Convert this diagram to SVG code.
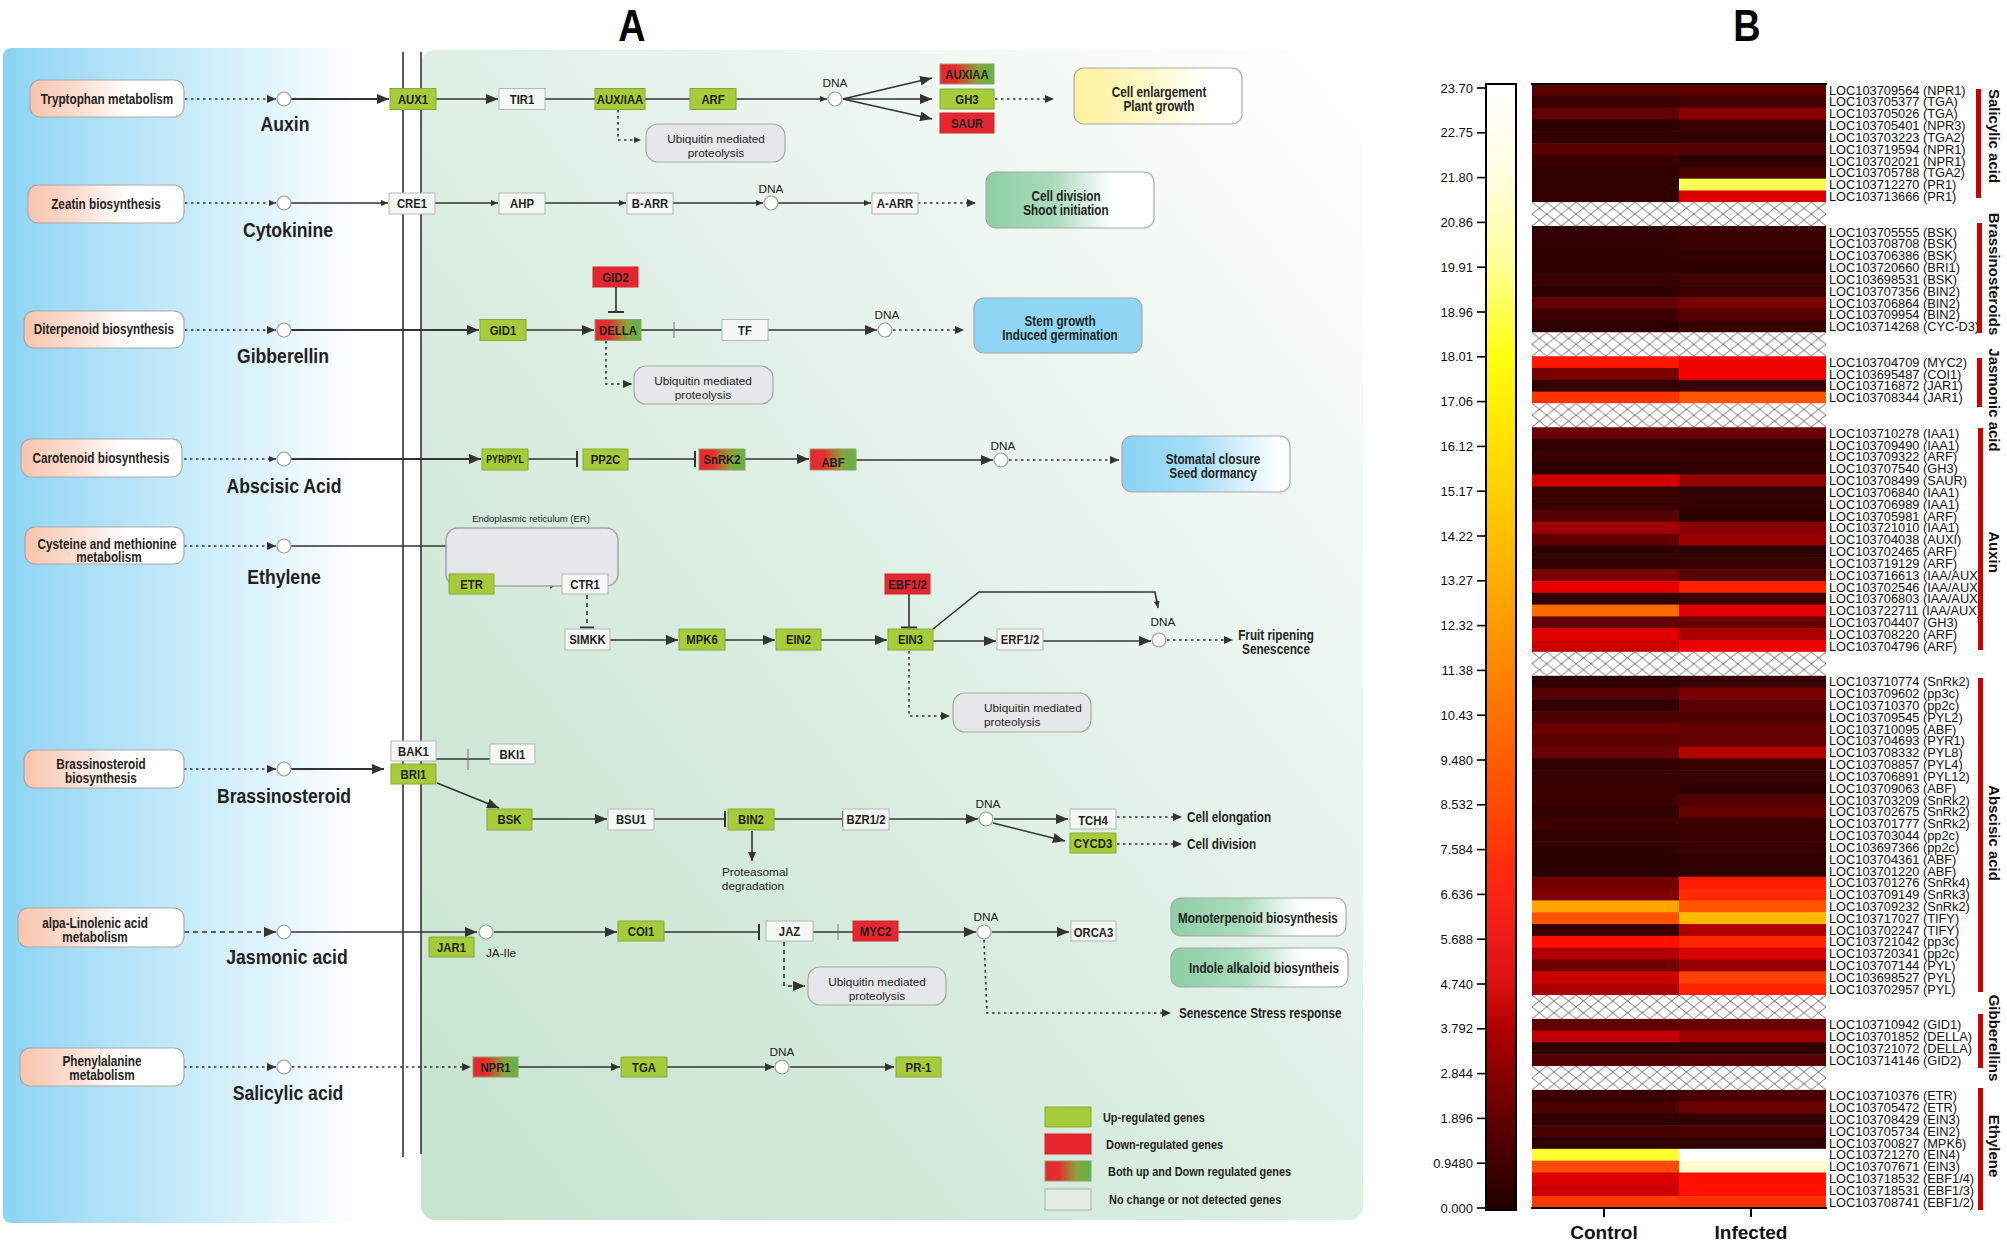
<svg xmlns="http://www.w3.org/2000/svg" width="2007" height="1242" viewBox="0 0 2007 1242">
<defs>
<linearGradient id="blueBg" x1="0" y1="0" x2="1" y2="0"><stop offset="0" stop-color="#8ad3f4"/><stop offset="0.15" stop-color="#a3dcf6"/><stop offset="0.5" stop-color="#cfeefa"/><stop offset="0.78" stop-color="#f4fbfe"/><stop offset="0.86" stop-color="#ffffff"/></linearGradient>
<linearGradient id="greenBg" x1="0" y1="1" x2="1" y2="0"><stop offset="0" stop-color="#c6e3cf"/><stop offset="0.4" stop-color="#d8ecdf"/><stop offset="0.75" stop-color="#eff7f2"/><stop offset="1" stop-color="#ffffff"/></linearGradient>
<linearGradient id="srcG" x1="0" y1="0" x2="1" y2="0"><stop offset="0" stop-color="#f7c4ad"/><stop offset="0.3" stop-color="#fbdccf"/><stop offset="0.65" stop-color="#ffffff"/></linearGradient>
<linearGradient id="yelG" x1="0" y1="0" x2="1" y2="0"><stop offset="0" stop-color="#fdf29a"/><stop offset="0.45" stop-color="#fef8c8"/><stop offset="0.8" stop-color="#ffffff"/></linearGradient>
<linearGradient id="grnG" x1="0" y1="0" x2="1" y2="0"><stop offset="0" stop-color="#8ccfa5"/><stop offset="0.4" stop-color="#a9dbbb"/><stop offset="0.75" stop-color="#ffffff"/></linearGradient>
<linearGradient id="bluG" x1="0" y1="0" x2="1" y2="0"><stop offset="0" stop-color="#89d2f3"/><stop offset="0.45" stop-color="#a8def6"/><stop offset="0.95" stop-color="#ffffff"/></linearGradient>
<linearGradient id="rg" x1="0" y1="0" x2="1" y2="0"><stop offset="0" stop-color="#e8262f"/><stop offset="0.3" stop-color="#e2302d"/><stop offset="0.68" stop-color="#8aa23a"/><stop offset="1" stop-color="#5cb648"/></linearGradient>
<linearGradient id="cbar" x1="0" y1="0" x2="0" y2="1">
<stop offset="0" stop-color="#ffffff"/><stop offset="0.08" stop-color="#fffde0"/><stop offset="0.16" stop-color="#ffff99"/><stop offset="0.24" stop-color="#ffff10"/><stop offset="0.32" stop-color="#ffe000"/><stop offset="0.40" stop-color="#ffc000"/><stop offset="0.48" stop-color="#ff9a00"/><stop offset="0.56" stop-color="#ff7000"/><stop offset="0.64" stop-color="#ff4a00"/><stop offset="0.70" stop-color="#ff2a10"/><stop offset="0.76" stop-color="#ee1a1a"/><stop offset="0.80" stop-color="#d81010"/><stop offset="0.84" stop-color="#b00000"/><stop offset="0.88" stop-color="#880000"/><stop offset="0.92" stop-color="#600000"/><stop offset="0.96" stop-color="#400000"/><stop offset="1" stop-color="#220000"/>
</linearGradient>
<pattern id="hatch" patternUnits="userSpaceOnUse" x="1532" y="84" width="14.7" height="11.8316"><rect width="14.7" height="11.8316" fill="#ffffff"/><path d="M0,0 L14.7,11.8316 M14.7,0 L0,11.8316" stroke="#333" stroke-width="0.7"/></pattern>
<marker id="ahl" markerUnits="userSpaceOnUse" markerWidth="12" markerHeight="10" refX="12" refY="5" orient="auto"><path d="M0,0 L12,5 L0,10 z" fill="#333"/></marker>
<marker id="ahm" markerUnits="userSpaceOnUse" markerWidth="9" markerHeight="8" refX="9" refY="4" orient="auto"><path d="M0,0 L9,4 L0,8 z" fill="#333"/></marker>
<marker id="ahs" markerUnits="userSpaceOnUse" markerWidth="7" markerHeight="6" refX="7" refY="3" orient="auto"><path d="M0,0 L7,3 L0,6 z" fill="#333"/></marker>
<style>
.bx-g{fill:#a6cc3a;stroke:#86a936;stroke-width:1}
.bx-r{fill:#e8262f;stroke:#c9262c;stroke-width:1}
.bx-w{fill:#f4f7f5;stroke:#b3b8b5;stroke-width:1}
.bx-rg{fill:url(#rg);stroke:#9a9a6a;stroke-width:1}
.gt,.st,.hl,.ot,.ttl,.lg{font-family:"Liberation Sans",Arial,sans-serif;font-weight:bold;fill:#231f20;transform-box:fill-box;transform-origin:center;transform:scaleX(0.84)}
.gt{font-size:13.5px;text-anchor:middle}
.st{font-size:14px;text-anchor:middle}
.hl{font-size:21px;text-anchor:middle}
.ot{font-size:14px;text-anchor:middle}
.ttl{font-size:45px;fill:#000;text-anchor:middle}
.lg{font-size:13px;transform-origin:left center}
.ls{text-anchor:start;transform-origin:left center}
.src{fill:url(#srcG);stroke:#a9a9a9;stroke-width:1.2}
.circ{fill:#ffffff;stroke:#9a9a9a;stroke-width:1.2}
.rt{font-family:"Liberation Sans",Arial,sans-serif;font-size:11.8px;fill:#231f20;text-anchor:middle}
.ubi{fill:#e6e7e9;stroke:#a8a8a8;stroke-width:1.2}
.out{stroke:#a8a8a8;stroke-width:1.2}
.ln{stroke:#333;stroke-width:1.6;fill:none}
.lk{stroke-width:2.2}
.dot{stroke-dasharray:2.5 3.5}
.dsh{stroke-dasharray:5 4}
.tb{stroke:#333;stroke-width:2;fill:none}
.tk{stroke:#777;stroke-width:1;fill:none}
.hm{font-family:"Liberation Sans",Arial,sans-serif;font-size:12.8px;fill:#111}
.tick{font-family:"Liberation Sans",Arial,sans-serif;font-size:13px;fill:#111;text-anchor:end}
.cat{font-family:"Liberation Sans",Arial,sans-serif;font-size:15px;font-weight:bold;fill:#111;text-anchor:middle}
.ax{font-family:"Liberation Sans",Arial,sans-serif;font-size:19px;font-weight:bold;fill:#111;text-anchor:middle}
</style>
</defs>
<rect x="0" y="0" width="2007" height="1242" fill="#ffffff"/>
<text class="ttl" x="632" y="41">A</text>
<text class="ttl" x="1747" y="41">B</text>

<g id="panelA-background">
<rect x="3" y="48" width="417" height="1175" rx="8" fill="url(#blueBg)"/>
<rect x="421" y="50" width="942" height="1170" rx="14" fill="url(#greenBg)"/>
<line x1="403" y1="52" x2="403" y2="1157" stroke="#333" stroke-width="1.6"/>
<line x1="421" y1="52" x2="421" y2="1154" stroke="#333" stroke-width="1.6"/>
</g>

<g id="connectors">
<!-- row 1 auxin -->
<path class="ln dot" d="M185,99 H276" marker-end="url(#ahm)"/>
<path class="ln lk" d="M291,99 H389" marker-end="url(#ahl)"/>
<path class="ln" d="M436,99 H498" marker-end="url(#ahl)"/>
<path class="ln" d="M545,99 H595"/>
<path class="ln" d="M645,99 H690"/>
<path class="ln" d="M736,99 H827" marker-end="url(#ahs)"/>
<path class="ln" d="M843,99 L932,78" marker-end="url(#ahl)"/>
<path class="ln" d="M843,99 H932" marker-end="url(#ahl)"/>
<path class="ln" d="M843,99 L932,119" marker-end="url(#ahl)"/>
<path class="ln dot" d="M995,99 H1054" marker-end="url(#ahm)"/>
<path class="ln dot" d="M618,110 V140 H641" marker-end="url(#ahs)"/>
<!-- row 2 cytokinine -->
<path class="ln dot" d="M185,203 H276" marker-end="url(#ahs)"/>
<path class="ln" d="M291,203 H388" marker-end="url(#ahs)"/>
<path class="ln" d="M435,203 H498" marker-end="url(#ahs)"/>
<path class="ln" d="M545,203 H626" marker-end="url(#ahs)"/>
<path class="ln" d="M673,203 H763" marker-end="url(#ahs)"/>
<path class="ln" d="M778,203 H871" marker-end="url(#ahs)"/>
<path class="ln dot" d="M918,203 H976" marker-end="url(#ahm)"/>
<!-- row 3 gibberellin -->
<path class="ln dot" d="M185,330 H276" marker-end="url(#ahm)"/>
<path class="ln lk" d="M291,330 H479" marker-end="url(#ahl)"/>
<path class="ln" d="M526,330 H594" marker-end="url(#ahl)"/>
<path class="ln" d="M616,287 V312"/>
<path class="tb" d="M608,312 H624"/>
<path class="ln" d="M641,330 H722"/>
<path class="tk" d="M674,322 V338"/>
<path class="ln" d="M768,330 H877" marker-end="url(#ahl)"/>
<path class="ln dot" d="M893,330 H964" marker-end="url(#ahm)"/>
<path class="ln dot" d="M606,341 V384 H632" marker-end="url(#ahm)"/>
<!-- row 4 abscisic acid -->
<path class="ln dot" d="M184,459 H276" marker-end="url(#ahs)"/>
<path class="ln lk" d="M291,459 H481" marker-end="url(#ahl)"/>
<path class="ln" d="M528,459 H577"/>
<path class="tb" d="M577,451 V467"/>
<path class="ln" d="M628,459 H695"/>
<path class="tb" d="M695,451 V467"/>
<path class="ln" d="M745,459 H809" marker-end="url(#ahl)"/>
<path class="ln" d="M856,460 H993" marker-end="url(#ahl)"/>
<path class="ln dot" d="M1009,460 H1119" marker-end="url(#ahm)"/>
<!-- row 5 ethylene -->
<path class="ln dot" d="M184,546 H276" marker-end="url(#ahm)"/>
<path class="ln" d="M291,546 H455 Q471,546 471,562 V572"/>
<path class="tb" d="M464,572 H478"/>
<path d="M495,583 H552" stroke="#333" stroke-width="4.5" fill="none"/>
<path d="M495,583 H552" stroke="#e6e7e9" stroke-width="1.2" fill="none"/>
<path d="M550,577.5 L561,583 L550,588.5 z" fill="#333"/>
<path class="ln" stroke-dasharray="4 4" d="M587,595 V627"/>
<path class="tb" d="M580,627.5 H594"/>
<path class="ln" d="M610,640 H678" marker-end="url(#ahl)"/>
<path class="ln" d="M725,640 H775" marker-end="url(#ahl)"/>
<path class="ln" d="M821,640 H887" marker-end="url(#ahl)"/>
<path class="ln" d="M909,594 V627"/>
<path class="tb" d="M901,627.5 H917"/>
<path class="ln" d="M933,641 H996" marker-end="url(#ahl)"/>
<path class="ln" d="M1043,641 H1151" marker-end="url(#ahl)"/>
<path class="ln" d="M933,629 L979,592 H1155 L1158,608" marker-end="url(#ahs)"/>
<path class="ln dot" d="M1167,640 H1233" marker-end="url(#ahm)"/>
<path class="ln dot" d="M909,651 V716 H950" marker-end="url(#ahm)"/>
<!-- row 6 brassinosteroid -->
<path class="ln dot" d="M184,769 H276" marker-end="url(#ahm)"/>
<path class="ln lk" d="M291,769 H384" marker-end="url(#ahl)"/>
<path class="ln" d="M436,759 H490"/>
<path class="tk" d="M468,749 V770"/>
<path class="ln" d="M437,783 L499,808" marker-end="url(#ahl)"/>
<path class="ln" d="M532,819 H607" marker-end="url(#ahl)"/>
<path class="ln" d="M654,819 H725"/>
<path class="tb" d="M725,811 V827"/>
<path class="ln" d="M774,819 H843"/>
<path class="tb" d="M843,811 V827"/>
<path class="ln" d="M889,819 H978" marker-end="url(#ahl)"/>
<path class="ln" d="M994,819 H1068" marker-end="url(#ahl)"/>
<path class="ln" d="M993,823 L1065,841" marker-end="url(#ahl)"/>
<path class="ln dot" d="M1117,817 H1182" marker-end="url(#ahm)"/>
<path class="ln dot" d="M1117,844 H1182" marker-end="url(#ahm)"/>
<path class="ln" d="M752,831 V861" marker-end="url(#ahm)"/>
<!-- row 7 jasmonic acid -->
<path class="ln dsh" d="M184,932 H276" marker-end="url(#ahl)"/>
<path class="ln" stroke-width="2.6" d="M291,932 H477" marker-end="url(#ahl)"/>
<path class="ln" d="M494,932 H617" marker-end="url(#ahl)"/>
<path class="ln" d="M664,932 H759"/>
<path class="tb" d="M759,924 V940"/>
<path class="ln" d="M813,932 H853"/>
<path class="tk" d="M838,924 V940"/>
<path class="ln" d="M898,932 H976" marker-end="url(#ahl)"/>
<path class="ln" d="M992,932 H1069" marker-end="url(#ahl)"/>
<path class="ln dot" d="M984,940 L987,1013 H1171" marker-end="url(#ahm)"/>
<path class="ln" stroke-dasharray="4 4" d="M784,942 V986 H805" marker-end="url(#ahl)"/>
<!-- row 8 salicylic acid -->
<path class="ln dot" d="M184,1067 H276" marker-end="url(#ahm)"/>
<path class="ln dot" d="M292,1067 H471" marker-end="url(#ahm)"/>
<path class="ln" d="M518,1067 H620" marker-end="url(#ahm)"/>
<path class="ln" d="M667,1067 H774" marker-end="url(#ahm)"/>
<path class="ln" d="M790,1067 H894" marker-end="url(#ahm)"/>
</g>

<!-- ===== Row 1: Auxin ===== -->
<g id="n-tryptophan"><rect class="src" x="30" y="80" width="154" height="37" rx="10"/><text class="st" x="107" y="104">Tryptophan metabolism</text></g>
<g id="n-auxin"><circle class="circ" cx="284" cy="99" r="7"/><text class="hl" x="285" y="131">Auxin</text></g>
<g id="n-aux1"><rect class="bx-g" x="390" y="88.5" width="46" height="21"/><text class="gt" x="413" y="104">AUX1</text></g>
<g id="n-tir1"><rect class="bx-w" x="499" y="88.5" width="46" height="21"/><text class="gt" x="522" y="104">TIR1</text></g>
<g id="n-auxiaa"><rect class="bx-g" x="595" y="88.5" width="50" height="21"/><text class="gt" x="620" y="104">AUX/IAA</text></g>
<g id="n-arf"><rect class="bx-g" x="690" y="88.5" width="46" height="21"/><text class="gt" x="713" y="104">ARF</text></g>
<g id="n-dna1"><circle class="circ" cx="835" cy="99" r="7"/><text class="rt" x="835" y="87">DNA</text></g>
<g id="n-auxiaa2"><rect class="bx-rg" x="940" y="64" width="54" height="20"/><text class="gt" x="967" y="79">AUXIAA</text></g>
<g id="n-gh3"><rect class="bx-g" x="940" y="89" width="54" height="20"/><text class="gt" x="967" y="104">GH3</text></g>
<g id="n-saur"><rect class="bx-r" x="940" y="113" width="54" height="20"/><text class="gt" x="967" y="128">SAUR</text></g>
<g id="n-cellenl"><rect class="out" fill="url(#yelG)" x="1074" y="68" width="168" height="56" rx="10"/><text class="ot" x="1159" y="97">Cell enlargement</text><text class="ot" x="1159" y="111">Plant growth</text></g>
<g id="n-ubi1"><rect class="ubi" x="646" y="124" width="139" height="38" rx="12"/><text class="rt" x="716" y="143">Ubiquitin mediated</text><text class="rt" x="716" y="157">proteolysis</text></g>

<!-- ===== Row 2: Cytokinine ===== -->
<g id="n-zeatin"><rect class="src" x="28" y="185" width="156" height="38" rx="10"/><text class="st" x="106" y="209">Zeatin biosynthesis</text></g>
<g id="n-cytokinine"><circle class="circ" cx="284" cy="203" r="7"/><text class="hl" x="288" y="237">Cytokinine</text></g>
<g id="n-cre1"><rect class="bx-w" x="389" y="193" width="46" height="21"/><text class="gt" x="412" y="208.5">CRE1</text></g>
<g id="n-ahp"><rect class="bx-w" x="499" y="193" width="46" height="21"/><text class="gt" x="522" y="208.5">AHP</text></g>
<g id="n-barr"><rect class="bx-w" x="627" y="193" width="46" height="21"/><text class="gt" x="650" y="208.5">B-ARR</text></g>
<g id="n-dna2"><circle class="circ" cx="771" cy="203" r="7"/><text class="rt" x="771" y="193">DNA</text></g>
<g id="n-aarr"><rect class="bx-w" x="872" y="193" width="46" height="21"/><text class="gt" x="895" y="208.5">A-ARR</text></g>
<g id="n-celldiv"><rect class="out" fill="url(#grnG)" x="986" y="172" width="168" height="56" rx="10"/><text class="ot" x="1066" y="201">Cell division</text><text class="ot" x="1066" y="215">Shoot initiation</text></g>

<!-- ===== Row 3: Gibberellin ===== -->
<g id="n-diterpenoid"><rect class="src" x="24" y="311" width="160" height="37" rx="10"/><text class="st" x="104" y="334">Diterpenoid biosynthesis</text></g>
<g id="n-gibberellin"><circle class="circ" cx="284" cy="330" r="7"/><text class="hl" x="283" y="363">Gibberellin</text></g>
<g id="n-gid1"><rect class="bx-g" x="480" y="319.5" width="46" height="21"/><text class="gt" x="503" y="335">GID1</text></g>
<g id="n-della"><rect class="bx-rg" x="595" y="319.5" width="46" height="21"/><text class="gt" x="618" y="335">DELLA</text></g>
<g id="n-gid2"><rect class="bx-r" x="593" y="267" width="45" height="20"/><text class="gt" x="615.5" y="282">GID2</text></g>
<g id="n-tf"><rect class="bx-w" x="722" y="319.5" width="46" height="21"/><text class="gt" x="745" y="335">TF</text></g>
<g id="n-dna3"><circle class="circ" cx="885" cy="330" r="7"/><text class="rt" x="887" y="319">DNA</text></g>
<g id="n-stem"><rect class="out" fill="#8fd5f4" x="974" y="298" width="168" height="55" rx="10"/><text class="ot" x="1060" y="326">Stem growth</text><text class="ot" x="1060" y="340">Induced germination</text></g>
<g id="n-ubi3"><rect class="ubi" x="634" y="366" width="139" height="38" rx="12"/><text class="rt" x="703" y="385">Ubiquitin mediated</text><text class="rt" x="703" y="399">proteolysis</text></g>

<!-- ===== Row 4: Abscisic acid ===== -->
<g id="n-carotenoid"><rect class="src" x="21" y="439" width="161" height="38" rx="10"/><text class="st" x="101" y="463">Carotenoid biosynthesis</text></g>
<g id="n-aba"><circle class="circ" cx="284" cy="459" r="7"/><text class="hl" x="284" y="493">Abscisic Acid</text></g>
<g id="n-pyr"><rect class="bx-g" x="482" y="449" width="46" height="21"/><text class="gt" style="font-size:10.5px" x="505" y="463.5">PYR/PYL</text></g>
<g id="n-pp2c"><rect class="bx-g" x="583" y="449" width="45" height="21"/><text class="gt" x="605.5" y="464.5">PP2C</text></g>
<g id="n-snrk2"><rect class="bx-rg" x="699" y="449" width="46" height="21"/><text class="gt" x="722" y="464.5">SnRK2</text></g>
<g id="n-abf"><rect class="bx-rg" x="810" y="449" width="46" height="21"/><text class="gt" x="833" y="467">ABF</text></g>
<g id="n-dna4"><circle class="circ" cx="1001" cy="460" r="7"/><text class="rt" x="1003" y="450">DNA</text></g>
<g id="n-stomatal"><rect class="out" fill="url(#bluG)" x="1122" y="436" width="168" height="56" rx="10"/><text class="ot" x="1213" y="464">Stomatal closure</text><text class="ot" x="1213" y="478">Seed dormancy</text></g>

<!-- ===== Row 5: Ethylene ===== -->
<g id="n-cysteine"><rect class="src" x="25" y="527" width="159" height="37" rx="10"/><text class="st" x="107" y="549">Cysteine and methionine</text><text class="st" x="109" y="562">metabolism</text></g>
<g id="n-ethylene"><circle class="circ" cx="284" cy="546" r="7"/><text class="hl" x="284" y="584">Ethylene</text></g>
<g id="n-er"><rect fill="#e6e7e9" stroke="#a5a5a5" stroke-width="1.6" x="446" y="528" width="172" height="58" rx="12"/><text class="rt" style="font-size:9.5px" x="531" y="522">Endoplasmic reticulum (ER)</text></g>
<g id="n-etr"><rect class="bx-g" x="449" y="574" width="45" height="20"/><text class="gt" x="471.5" y="589">ETR</text></g>
<g id="n-ctr1"><rect class="bx-w" x="562" y="574" width="46" height="20"/><text class="gt" x="585" y="589">CTR1</text></g>
<g id="n-simkk"><rect class="bx-w" x="565" y="629" width="45" height="21"/><text class="gt" x="587.5" y="644.5">SIMKK</text></g>
<g id="n-mpk6"><rect class="bx-g" x="679" y="629" width="46" height="21"/><text class="gt" x="702" y="644.5">MPK6</text></g>
<g id="n-ein2"><rect class="bx-g" x="776" y="629" width="45" height="21"/><text class="gt" x="798.5" y="644.5">EIN2</text></g>
<g id="n-ein3"><rect class="bx-g" x="888" y="629" width="45" height="21"/><text class="gt" x="910.5" y="644.5">EIN3</text></g>
<g id="n-ebf"><rect class="bx-r" x="885" y="574" width="45" height="20"/><text class="gt" x="907.5" y="589">EBF1/2</text></g>
<g id="n-erf"><rect class="bx-w" x="997" y="629" width="46" height="21"/><text class="gt" x="1020" y="644.5">ERF1/2</text></g>
<g id="n-dna5"><circle class="circ" cx="1159" cy="640" r="7"/><text class="rt" x="1163" y="626">DNA</text></g>
<g id="n-fruit"><text class="ot" x="1276" y="640">Fruit ripening</text><text class="ot" x="1276" y="654">Senescence</text></g>
<g id="n-ubi5"><rect class="ubi" x="953" y="693" width="138" height="39" rx="12"/><text class="rt" style="text-anchor:start" x="984" y="712">Ubiquitin mediated</text><text class="rt" style="text-anchor:start" x="984" y="726">proteolysis</text></g>

<!-- ===== Row 6: Brassinosteroid ===== -->
<g id="n-brsrc"><rect class="src" x="24" y="750" width="160" height="38" rx="10"/><text class="st" x="101" y="769">Brassinosteroid</text><text class="st" x="101" y="783">biosynthesis</text></g>
<g id="n-brassinosteroid"><circle class="circ" cx="284" cy="769" r="7"/><text class="hl" x="284" y="803">Brassinosteroid</text></g>
<g id="n-bak1"><rect class="bx-w" x="391" y="741" width="45" height="20"/><text class="gt" x="413.5" y="756">BAK1</text></g>
<g id="n-bri1"><rect class="bx-g" x="391" y="764" width="45" height="20"/><text class="gt" x="413.5" y="779">BRI1</text></g>
<g id="n-bki1"><rect class="bx-w" x="490" y="744" width="45" height="20"/><text class="gt" x="512.5" y="759">BKI1</text></g>
<g id="n-bsk"><rect class="bx-g" x="487" y="809" width="45" height="21"/><text class="gt" x="509.5" y="824.5">BSK</text></g>
<g id="n-bsu1"><rect class="bx-w" x="608" y="809" width="46" height="21"/><text class="gt" x="631" y="824.5">BSU1</text></g>
<g id="n-bin2"><rect class="bx-g" x="728" y="809" width="46" height="21"/><text class="gt" x="751" y="824.5">BIN2</text></g>
<g id="n-bzr"><rect class="bx-w" x="843" y="809" width="46" height="21"/><text class="gt" x="866" y="824.5">BZR1/2</text></g>
<g id="n-dna6"><circle class="circ" cx="986" cy="819" r="7"/><text class="rt" x="988" y="808">DNA</text></g>
<g id="n-tch4"><rect class="bx-w" x="1070" y="809" width="46" height="20"/><text class="gt" x="1093" y="825.5">TCH4</text></g>
<g id="n-cycd3"><rect class="bx-g" x="1070" y="833" width="46" height="20"/><text class="gt" x="1093" y="848.5">CYCD3</text></g>
<g id="n-elong"><text class="ot ls" x="1187" y="822">Cell elongation</text></g>
<g id="n-celldiv2"><text class="ot ls" x="1187" y="849">Cell division</text></g>
<g id="n-proteasomal"><text class="rt" x="755" y="876">Proteasomal</text><text class="rt" x="753" y="890">degradation</text></g>

<!-- ===== Row 7: Jasmonic acid ===== -->
<g id="n-linolenic"><rect class="src" x="18" y="908" width="166" height="39" rx="10"/><text class="st" x="95" y="928">alpa-Linolenic acid</text><text class="st" x="95" y="942">metabolism</text></g>
<g id="n-jasmonic"><circle class="circ" cx="284" cy="932" r="7"/><text class="hl" x="287" y="964">Jasmonic acid</text></g>
<g id="n-jaile"><circle class="circ" cx="486" cy="932" r="7"/><text class="rt" x="501" y="957">JA-Ile</text></g>
<g id="n-jar1"><rect class="bx-g" x="429" y="937" width="45" height="20"/><text class="gt" x="451.5" y="952">JAR1</text></g>
<g id="n-coi1"><rect class="bx-g" x="618" y="921" width="46" height="20"/><text class="gt" x="641" y="936">COI1</text></g>
<g id="n-jaz"><rect class="bx-w" x="766" y="921" width="47" height="20"/><text class="gt" x="789.5" y="936">JAZ</text></g>
<g id="n-myc2"><rect class="bx-r" x="853" y="921" width="45" height="20"/><text class="gt" x="875.5" y="936">MYC2</text></g>
<g id="n-dna7"><circle class="circ" cx="984" cy="932" r="7"/><text class="rt" x="986" y="921">DNA</text></g>
<g id="n-orca3"><rect class="bx-w" x="1071" y="921" width="45" height="20"/><text class="gt" x="1093.5" y="937.5">ORCA3</text></g>
<g id="n-mono"><rect class="out" fill="url(#grnG)" x="1171" y="898" width="175" height="38" rx="10"/><text class="ot" x="1258" y="923">Monoterpenoid biosynthesis</text></g>
<g id="n-indole"><rect class="out" fill="url(#grnG)" x="1171" y="948" width="177" height="39" rx="10"/><text class="ot" x="1264" y="973">Indole alkaloid biosyntheis</text></g>
<g id="n-ubi7"><rect class="ubi" x="808" y="967" width="138" height="38" rx="12"/><text class="rt" x="877" y="986">Ubiquitin mediated</text><text class="rt" x="877" y="1000">proteolysis</text></g>
<g id="n-senescence"><text class="ot ls" x="1179" y="1018">Senescence Stress response</text></g>

<!-- ===== Row 8: Salicylic acid ===== -->
<g id="n-phenyl"><rect class="src" x="20" y="1048" width="164" height="38" rx="10"/><text class="st" x="102" y="1066">Phenylalanine</text><text class="st" x="102" y="1080">metabolism</text></g>
<g id="n-salicylic"><circle class="circ" cx="284" cy="1067" r="7"/><text class="hl" x="288" y="1100">Salicylic acid</text></g>
<g id="n-npr1"><rect class="bx-rg" x="473" y="1057" width="45" height="20"/><text class="gt" x="495.5" y="1072">NPR1</text></g>
<g id="n-tga"><rect class="bx-g" x="621" y="1057" width="46" height="20"/><text class="gt" x="644" y="1072">TGA</text></g>
<g id="n-dna8"><circle class="circ" cx="782" cy="1067" r="7"/><text class="rt" x="782" y="1056">DNA</text></g>
<g id="n-pr1"><rect class="bx-g" x="896" y="1057" width="45" height="20"/><text class="gt" x="918.5" y="1072">PR-1</text></g>

<!-- ===== Legend ===== -->
<g id="legend">
<rect class="bx-g" x="1045" y="1107" width="46" height="20"/><text class="lg" x="1103" y="1122">Up-regulated genes</text>
<rect class="bx-r" x="1045" y="1134" width="46" height="20"/><text class="lg" x="1106" y="1149">Down-regulated genes</text>
<rect class="bx-rg" x="1045" y="1161" width="46" height="20"/><text class="lg" x="1108" y="1176">Both up and Down regulated genes</text>
<rect fill="#e3eee7" stroke="#a9b0ab" stroke-width="1" x="1045" y="1189" width="46" height="21"/><text class="lg" x="1109" y="1204">No change or not detected genes</text>
</g>

<!-- ===== Panel B ===== -->
<g id="colorbar">
<rect x="1486" y="84" width="30" height="1126" fill="url(#cbar)" stroke="#000" stroke-width="2"/>
<g stroke="#000" stroke-width="1.6">
<line x1="1477" y1="88" x2="1486" y2="88"/><line x1="1477" y1="132.8" x2="1486" y2="132.8"/><line x1="1477" y1="177.6" x2="1486" y2="177.6"/><line x1="1477" y1="222.4" x2="1486" y2="222.4"/><line x1="1477" y1="267.2" x2="1486" y2="267.2"/><line x1="1477" y1="312" x2="1486" y2="312"/><line x1="1477" y1="356.8" x2="1486" y2="356.8"/><line x1="1477" y1="401.6" x2="1486" y2="401.6"/><line x1="1477" y1="446.4" x2="1486" y2="446.4"/><line x1="1477" y1="491.2" x2="1486" y2="491.2"/><line x1="1477" y1="536" x2="1486" y2="536"/><line x1="1477" y1="580.8" x2="1486" y2="580.8"/><line x1="1477" y1="625.6" x2="1486" y2="625.6"/><line x1="1477" y1="670.4" x2="1486" y2="670.4"/><line x1="1477" y1="715.2" x2="1486" y2="715.2"/><line x1="1477" y1="760" x2="1486" y2="760"/><line x1="1477" y1="804.8" x2="1486" y2="804.8"/><line x1="1477" y1="849.6" x2="1486" y2="849.6"/><line x1="1477" y1="894.4" x2="1486" y2="894.4"/><line x1="1477" y1="939.2" x2="1486" y2="939.2"/><line x1="1477" y1="984" x2="1486" y2="984"/><line x1="1477" y1="1028.8" x2="1486" y2="1028.8"/><line x1="1477" y1="1073.6" x2="1486" y2="1073.6"/><line x1="1477" y1="1118.4" x2="1486" y2="1118.4"/><line x1="1477" y1="1163.2" x2="1486" y2="1163.2"/><line x1="1477" y1="1208" x2="1486" y2="1208"/>
</g>
<text class="tick" x="1473" y="92.5">23.70</text><text class="tick" x="1473" y="137.3">22.75</text><text class="tick" x="1473" y="182.1">21.80</text><text class="tick" x="1473" y="226.9">20.86</text><text class="tick" x="1473" y="271.7">19.91</text><text class="tick" x="1473" y="316.5">18.96</text><text class="tick" x="1473" y="361.3">18.01</text><text class="tick" x="1473" y="406.1">17.06</text><text class="tick" x="1473" y="450.9">16.12</text><text class="tick" x="1473" y="495.7">15.17</text><text class="tick" x="1473" y="540.5">14.22</text><text class="tick" x="1473" y="585.3">13.27</text><text class="tick" x="1473" y="630.1">12.32</text><text class="tick" x="1473" y="674.9">11.38</text><text class="tick" x="1473" y="719.7">10.43</text><text class="tick" x="1473" y="764.5">9.480</text><text class="tick" x="1473" y="809.3">8.532</text><text class="tick" x="1473" y="854.1">7.584</text><text class="tick" x="1473" y="898.9">6.636</text><text class="tick" x="1473" y="943.7">5.688</text><text class="tick" x="1473" y="988.5">4.740</text><text class="tick" x="1473" y="1033.3">3.792</text><text class="tick" x="1473" y="1078.1">2.844</text><text class="tick" x="1473" y="1122.9">1.896</text><text class="tick" x="1473" y="1167.7">0.9480</text><text class="tick" x="1473" y="1212.5">0.000</text>
</g>

<g id="heatmap">
<g transform="translate(1532,84) scale(1,11.8316)">
<rect x="0" y="0" width="147" height="1.05" fill="#5a0000"/><rect x="147" y="0" width="147" height="1.05" fill="#5a0000"/>
<rect x="0" y="1" width="147" height="1.05" fill="#3a0000"/><rect x="147" y="1" width="147" height="1.05" fill="#450000"/>
<rect x="0" y="2" width="147" height="1.05" fill="#600000"/><rect x="147" y="2" width="147" height="1.05" fill="#880000"/>
<rect x="0" y="3" width="147" height="1.05" fill="#2e0000"/><rect x="147" y="3" width="147" height="1.05" fill="#3a0000"/>
<rect x="0" y="4" width="147" height="1.05" fill="#330000"/><rect x="147" y="4" width="147" height="1.05" fill="#300000"/>
<rect x="0" y="5" width="147" height="1.05" fill="#580000"/><rect x="147" y="5" width="147" height="1.05" fill="#550000"/>
<rect x="0" y="6" width="147" height="1.05" fill="#3a0000"/><rect x="147" y="6" width="147" height="1.05" fill="#2e0000"/>
<rect x="0" y="7" width="147" height="1.05" fill="#300000"/><rect x="147" y="7" width="147" height="1.05" fill="#4a0000"/>
<rect x="0" y="8" width="147" height="1.05" fill="#300000"/><rect x="147" y="8" width="147" height="1.05" fill="#ffff55"/>
<rect x="0" y="9" width="147" height="1" fill="#300000"/><rect x="147" y="9" width="147" height="1" fill="#dd0000"/>
<rect x="0" y="12" width="147" height="1.05" fill="#330000"/><rect x="147" y="12" width="147" height="1.05" fill="#3d0000"/>
<rect x="0" y="13" width="147" height="1.05" fill="#300000"/><rect x="147" y="13" width="147" height="1.05" fill="#380000"/>
<rect x="0" y="14" width="147" height="1.05" fill="#2e0000"/><rect x="147" y="14" width="147" height="1.05" fill="#330000"/>
<rect x="0" y="15" width="147" height="1.05" fill="#2e0000"/><rect x="147" y="15" width="147" height="1.05" fill="#2e0000"/>
<rect x="0" y="16" width="147" height="1.05" fill="#3a0000"/><rect x="147" y="16" width="147" height="1.05" fill="#420000"/>
<rect x="0" y="17" width="147" height="1.05" fill="#2e0000"/><rect x="147" y="17" width="147" height="1.05" fill="#380000"/>
<rect x="0" y="18" width="147" height="1.05" fill="#650000"/><rect x="147" y="18" width="147" height="1.05" fill="#780000"/>
<rect x="0" y="19" width="147" height="1.05" fill="#3d0000"/><rect x="147" y="19" width="147" height="1.05" fill="#550000"/>
<rect x="0" y="20" width="147" height="1" fill="#2e0000"/><rect x="147" y="20" width="147" height="1" fill="#3a0000"/>
<rect x="0" y="23" width="147" height="1.05" fill="#ff1500"/><rect x="147" y="23" width="147" height="1.05" fill="#f00000"/>
<rect x="0" y="24" width="147" height="1.05" fill="#7a0000"/><rect x="147" y="24" width="147" height="1.05" fill="#f00000"/>
<rect x="0" y="25" width="147" height="1.05" fill="#330000"/><rect x="147" y="25" width="147" height="1.05" fill="#3a0000"/>
<rect x="0" y="26" width="147" height="1" fill="#ff3300"/><rect x="147" y="26" width="147" height="1" fill="#ff5500"/>
<rect x="0" y="29" width="147" height="1.05" fill="#6a0000"/><rect x="147" y="29" width="147" height="1.05" fill="#6a0000"/>
<rect x="0" y="30" width="147" height="1.05" fill="#300000"/><rect x="147" y="30" width="147" height="1.05" fill="#330000"/>
<rect x="0" y="31" width="147" height="1.05" fill="#3a0000"/><rect x="147" y="31" width="147" height="1.05" fill="#3a0000"/>
<rect x="0" y="32" width="147" height="1.05" fill="#2e0000"/><rect x="147" y="32" width="147" height="1.05" fill="#330000"/>
<rect x="0" y="33" width="147" height="1.05" fill="#d00000"/><rect x="147" y="33" width="147" height="1.05" fill="#950000"/>
<rect x="0" y="34" width="147" height="1.05" fill="#3a0000"/><rect x="147" y="34" width="147" height="1.05" fill="#300000"/>
<rect x="0" y="35" width="147" height="1.05" fill="#3a0000"/><rect x="147" y="35" width="147" height="1.05" fill="#330000"/>
<rect x="0" y="36" width="147" height="1.05" fill="#550000"/><rect x="147" y="36" width="147" height="1.05" fill="#2e0000"/>
<rect x="0" y="37" width="147" height="1.05" fill="#a00000"/><rect x="147" y="37" width="147" height="1.05" fill="#880000"/>
<rect x="0" y="38" width="147" height="1.05" fill="#600000"/><rect x="147" y="38" width="147" height="1.05" fill="#9a0000"/>
<rect x="0" y="39" width="147" height="1.05" fill="#2e0000"/><rect x="147" y="39" width="147" height="1.05" fill="#300000"/>
<rect x="0" y="40" width="147" height="1.05" fill="#330000"/><rect x="147" y="40" width="147" height="1.05" fill="#3a0000"/>
<rect x="0" y="41" width="147" height="1.05" fill="#7a0000"/><rect x="147" y="41" width="147" height="1.05" fill="#550000"/>
<rect x="0" y="42" width="147" height="1.05" fill="#e80000"/><rect x="147" y="42" width="147" height="1.05" fill="#ff2000"/>
<rect x="0" y="43" width="147" height="1.05" fill="#300000"/><rect x="147" y="43" width="147" height="1.05" fill="#3a0000"/>
<rect x="0" y="44" width="147" height="1.05" fill="#ff6a00"/><rect x="147" y="44" width="147" height="1.05" fill="#e00000"/>
<rect x="0" y="45" width="147" height="1.05" fill="#650000"/><rect x="147" y="45" width="147" height="1.05" fill="#6a0000"/>
<rect x="0" y="46" width="147" height="1.05" fill="#e00000"/><rect x="147" y="46" width="147" height="1.05" fill="#aa0000"/>
<rect x="0" y="47" width="147" height="1" fill="#c80000"/><rect x="147" y="47" width="147" height="1" fill="#ee0000"/>
<rect x="0" y="50" width="147" height="1.05" fill="#300000"/><rect x="147" y="50" width="147" height="1.05" fill="#380000"/>
<rect x="0" y="51" width="147" height="1.05" fill="#550000"/><rect x="147" y="51" width="147" height="1.05" fill="#780000"/>
<rect x="0" y="52" width="147" height="1.05" fill="#2e0000"/><rect x="147" y="52" width="147" height="1.05" fill="#5a0000"/>
<rect x="0" y="53" width="147" height="1.05" fill="#4a0000"/><rect x="147" y="53" width="147" height="1.05" fill="#500000"/>
<rect x="0" y="54" width="147" height="1.05" fill="#6a0000"/><rect x="147" y="54" width="147" height="1.05" fill="#650000"/>
<rect x="0" y="55" width="147" height="1.05" fill="#5a0000"/><rect x="147" y="55" width="147" height="1.05" fill="#650000"/>
<rect x="0" y="56" width="147" height="1.05" fill="#6a0000"/><rect x="147" y="56" width="147" height="1.05" fill="#b00000"/>
<rect x="0" y="57" width="147" height="1.05" fill="#300000"/><rect x="147" y="57" width="147" height="1.05" fill="#380000"/>
<rect x="0" y="58" width="147" height="1.05" fill="#380000"/><rect x="147" y="58" width="147" height="1.05" fill="#3a0000"/>
<rect x="0" y="59" width="147" height="1.05" fill="#3a0000"/><rect x="147" y="59" width="147" height="1.05" fill="#2e0000"/>
<rect x="0" y="60" width="147" height="1.05" fill="#3d0000"/><rect x="147" y="60" width="147" height="1.05" fill="#500000"/>
<rect x="0" y="61" width="147" height="1.05" fill="#330000"/><rect x="147" y="61" width="147" height="1.05" fill="#650000"/>
<rect x="0" y="62" width="147" height="1.05" fill="#3d0000"/><rect x="147" y="62" width="147" height="1.05" fill="#3d0000"/>
<rect x="0" y="63" width="147" height="1.05" fill="#300000"/><rect x="147" y="63" width="147" height="1.05" fill="#380000"/>
<rect x="0" y="64" width="147" height="1.05" fill="#300000"/><rect x="147" y="64" width="147" height="1.05" fill="#3a0000"/>
<rect x="0" y="65" width="147" height="1.05" fill="#2a0000"/><rect x="147" y="65" width="147" height="1.05" fill="#330000"/>
<rect x="0" y="66" width="147" height="1.05" fill="#2a0000"/><rect x="147" y="66" width="147" height="1.05" fill="#300000"/>
<rect x="0" y="67" width="147" height="1.05" fill="#700000"/><rect x="147" y="67" width="147" height="1.05" fill="#ff1a00"/>
<rect x="0" y="68" width="147" height="1.05" fill="#800000"/><rect x="147" y="68" width="147" height="1.05" fill="#ff2a00"/>
<rect x="0" y="69" width="147" height="1.05" fill="#ffa500"/><rect x="147" y="69" width="147" height="1.05" fill="#ff5500"/>
<rect x="0" y="70" width="147" height="1.05" fill="#ff5500"/><rect x="147" y="70" width="147" height="1.05" fill="#ffb800"/>
<rect x="0" y="71" width="147" height="1.05" fill="#3a0000"/><rect x="147" y="71" width="147" height="1.05" fill="#b00000"/>
<rect x="0" y="72" width="147" height="1.05" fill="#ff1000"/><rect x="147" y="72" width="147" height="1.05" fill="#ff2500"/>
<rect x="0" y="73" width="147" height="1.05" fill="#b00000"/><rect x="147" y="73" width="147" height="1.05" fill="#d80000"/>
<rect x="0" y="74" width="147" height="1.05" fill="#700000"/><rect x="147" y="74" width="147" height="1.05" fill="#9a0000"/>
<rect x="0" y="75" width="147" height="1.05" fill="#cc0000"/><rect x="147" y="75" width="147" height="1.05" fill="#ff4000"/>
<rect x="0" y="76" width="147" height="1" fill="#aa0000"/><rect x="147" y="76" width="147" height="1" fill="#ff2200"/>
<rect x="0" y="79" width="147" height="1.05" fill="#600000"/><rect x="147" y="79" width="147" height="1.05" fill="#6a0000"/>
<rect x="0" y="80" width="147" height="1.05" fill="#c00000"/><rect x="147" y="80" width="147" height="1.05" fill="#a00000"/>
<rect x="0" y="81" width="147" height="1.05" fill="#2e0000"/><rect x="147" y="81" width="147" height="1.05" fill="#300000"/>
<rect x="0" y="82" width="147" height="1" fill="#550000"/><rect x="147" y="82" width="147" height="1" fill="#5a0000"/>
<rect x="0" y="85" width="147" height="1.05" fill="#3a0000"/><rect x="147" y="85" width="147" height="1.05" fill="#4a0000"/>
<rect x="0" y="86" width="147" height="1.05" fill="#4a0000"/><rect x="147" y="86" width="147" height="1.05" fill="#6a0000"/>
<rect x="0" y="87" width="147" height="1.05" fill="#300000"/><rect x="147" y="87" width="147" height="1.05" fill="#300000"/>
<rect x="0" y="88" width="147" height="1.05" fill="#450000"/><rect x="147" y="88" width="147" height="1.05" fill="#4a0000"/>
<rect x="0" y="89" width="147" height="1.05" fill="#300000"/><rect x="147" y="89" width="147" height="1.05" fill="#330000"/>
<rect x="0" y="90" width="147" height="1.05" fill="#ffff30"/><rect x="147" y="90" width="147" height="1.05" fill="#ffffff"/>
<rect x="0" y="91" width="147" height="1.05" fill="#ff4a00"/><rect x="147" y="91" width="147" height="1.05" fill="#fffbd0"/>
<rect x="0" y="92" width="147" height="1.05" fill="#dd0000"/><rect x="147" y="92" width="147" height="1.05" fill="#ff1000"/>
<rect x="0" y="93" width="147" height="1.05" fill="#d00000"/><rect x="147" y="93" width="147" height="1.05" fill="#ff1000"/>
<rect x="0" y="94" width="147" height="1" fill="#ff3a00"/><rect x="147" y="94" width="147" height="1" fill="#ff3000"/>
</g>
<g fill="url(#hatch)">
<rect x="1532" y="202.3" width="294" height="23.66"/>
<rect x="1532" y="332.5" width="294" height="23.66"/>
<rect x="1532" y="403.5" width="294" height="23.66"/>
<rect x="1532" y="651.9" width="294" height="23.66"/>
<rect x="1532" y="995.0" width="294" height="23.66"/>
<rect x="1532" y="1066.0" width="294" height="23.66"/>
</g>
<line x1="1531" y1="84" x2="1827" y2="84" stroke="#000" stroke-width="2"/>
<line x1="1531" y1="1208" x2="1827" y2="1208" stroke="#000" stroke-width="2.2"/>
<line x1="1604" y1="1208" x2="1604" y2="1217" stroke="#000" stroke-width="2"/>
<line x1="1751" y1="1208" x2="1751" y2="1217" stroke="#000" stroke-width="2"/>
<text class="ax" x="1604" y="1239">Control</text>
<text class="ax" x="1751" y="1239">Infected</text>
</g>

<g id="heatmap-labels" class="hm">
<text x="1829" y="94.6"><tspan x="1829">LOC103709564 (NPR1)</tspan><tspan x="1829" dy="11.8316">LOC103705377 (TGA)</tspan><tspan x="1829" dy="11.8316">LOC103705026 (TGA)</tspan><tspan x="1829" dy="11.8316">LOC103705401 (NPR3)</tspan><tspan x="1829" dy="11.8316">LOC103703223 (TGA2)</tspan><tspan x="1829" dy="11.8316">LOC103719594 (NPR1)</tspan><tspan x="1829" dy="11.8316">LOC103702021 (NPR1)</tspan><tspan x="1829" dy="11.8316">LOC103705788 (TGA2)</tspan><tspan x="1829" dy="11.8316">LOC103712270 (PR1)</tspan><tspan x="1829" dy="11.8316">LOC103713666 (PR1)</tspan></text>
<text x="1829" y="236.6"><tspan x="1829">LOC103705555 (BSK)</tspan><tspan x="1829" dy="11.8316">LOC103708708 (BSK)</tspan><tspan x="1829" dy="11.8316">LOC103706386 (BSK)</tspan><tspan x="1829" dy="11.8316">LOC103720660 (BRI1)</tspan><tspan x="1829" dy="11.8316">LOC103698531 (BSK)</tspan><tspan x="1829" dy="11.8316">LOC103707356 (BIN2)</tspan><tspan x="1829" dy="11.8316">LOC103706864 (BIN2)</tspan><tspan x="1829" dy="11.8316">LOC103709954 (BIN2)</tspan><tspan x="1829" dy="11.8316">LOC103714268 (CYC-D3)</tspan></text>
<text x="1829" y="366.7"><tspan x="1829">LOC103704709 (MYC2)</tspan><tspan x="1829" dy="11.8316">LOC103695487 (COI1)</tspan><tspan x="1829" dy="11.8316">LOC103716872 (JAR1)</tspan><tspan x="1829" dy="11.8316">LOC103708344 (JAR1)</tspan></text>
<text x="1829" y="437.7"><tspan x="1829">LOC103710278 (IAA1)</tspan><tspan x="1829" dy="11.8316">LOC103709490 (IAA1)</tspan><tspan x="1829" dy="11.8316">LOC103709322 (ARF)</tspan><tspan x="1829" dy="11.8316">LOC103707540 (GH3)</tspan><tspan x="1829" dy="11.8316">LOC103708499 (SAUR)</tspan><tspan x="1829" dy="11.8316">LOC103706840 (IAA1)</tspan><tspan x="1829" dy="11.8316">LOC103706989 (IAA1)</tspan><tspan x="1829" dy="11.8316">LOC103705981 (ARF)</tspan><tspan x="1829" dy="11.8316">LOC103721010 (IAA1)</tspan><tspan x="1829" dy="11.8316">LOC103704038 (AUXI)</tspan><tspan x="1829" dy="11.8316">LOC103702465 (ARF)</tspan><tspan x="1829" dy="11.8316">LOC103719129 (ARF)</tspan><tspan x="1829" dy="11.8316">LOC103716613 (IAA/AUX)</tspan><tspan x="1829" dy="11.8316">LOC103702546 (IAA/AUX)</tspan><tspan x="1829" dy="11.8316">LOC103706803 (IAA/AUX)</tspan><tspan x="1829" dy="11.8316">LOC103722711 (IAA/AUX)</tspan><tspan x="1829" dy="11.8316">LOC103704407 (GH3)</tspan><tspan x="1829" dy="11.8316">LOC103708220 (ARF)</tspan><tspan x="1829" dy="11.8316">LOC103704796 (ARF)</tspan></text>
<text x="1829" y="686.2"><tspan x="1829">LOC103710774 (SnRk2)</tspan><tspan x="1829" dy="11.8316">LOC103709602 (pp3c)</tspan><tspan x="1829" dy="11.8316">LOC103710370 (pp2c)</tspan><tspan x="1829" dy="11.8316">LOC103709545 (PYL2)</tspan><tspan x="1829" dy="11.8316">LOC103710095 (ABF)</tspan><tspan x="1829" dy="11.8316">LOC103704693 (PYR1)</tspan><tspan x="1829" dy="11.8316">LOC103708332 (PYL8)</tspan><tspan x="1829" dy="11.8316">LOC103708857 (PYL4)</tspan><tspan x="1829" dy="11.8316">LOC103706891 (PYL12)</tspan><tspan x="1829" dy="11.8316">LOC103709063 (ABF)</tspan><tspan x="1829" dy="11.8316">LOC103703209 (SnRk2)</tspan><tspan x="1829" dy="11.8316">LOC103702675 (SnRk2)</tspan><tspan x="1829" dy="11.8316">LOC103701777 (SnRk2)</tspan><tspan x="1829" dy="11.8316">LOC103703044 (pp2c)</tspan><tspan x="1829" dy="11.8316">LOC103697366 (pp2c)</tspan><tspan x="1829" dy="11.8316">LOC103704361 (ABF)</tspan><tspan x="1829" dy="11.8316">LOC103701220 (ABF)</tspan><tspan x="1829" dy="11.8316">LOC103701276 (SnRk4)</tspan><tspan x="1829" dy="11.8316">LOC103709149 (SnRk3)</tspan><tspan x="1829" dy="11.8316">LOC103709232 (SnRk2)</tspan><tspan x="1829" dy="11.8316">LOC103717027 (TIFY)</tspan><tspan x="1829" dy="11.8316">LOC103702247 (TIFY)</tspan><tspan x="1829" dy="11.8316">LOC103721042 (pp3c)</tspan><tspan x="1829" dy="11.8316">LOC103720341 (pp2c)</tspan><tspan x="1829" dy="11.8316">LOC103707144 (PYL)</tspan><tspan x="1829" dy="11.8316">LOC103698527 (PYL)</tspan><tspan x="1829" dy="11.8316">LOC103702957 (PYL)</tspan></text>
<text x="1829" y="1029.3"><tspan x="1829">LOC103710942 (GID1)</tspan><tspan x="1829" dy="11.8316">LOC103701852 (DELLA)</tspan><tspan x="1829" dy="11.8316">LOC103721072 (DELLA)</tspan><tspan x="1829" dy="11.8316">LOC103714146 (GID2)</tspan></text>
<text x="1829" y="1100.3"><tspan x="1829">LOC103710376 (ETR)</tspan><tspan x="1829" dy="11.8316">LOC103705472 (ETR)</tspan><tspan x="1829" dy="11.8316">LOC103708429 (EIN3)</tspan><tspan x="1829" dy="11.8316">LOC103705734 (EIN2)</tspan><tspan x="1829" dy="11.8316">LOC103700827 (MPK6)</tspan><tspan x="1829" dy="11.8316">LOC103721270 (EIN4)</tspan><tspan x="1829" dy="11.8316">LOC103707671 (EIN3)</tspan><tspan x="1829" dy="11.8316">LOC103718532 (EBF1/4)</tspan><tspan x="1829" dy="11.8316">LOC103718531 (EBF1/3)</tspan><tspan x="1829" dy="11.8316">LOC103708741 (EBF1/2)</tspan></text>
</g>

<g id="categories">
<g fill="#cc0000">
<rect x="1976" y="89" width="5" height="109"/>
<rect x="1977" y="223" width="5" height="110"/>
<rect x="1977" y="358" width="5" height="49"/>
<rect x="1978" y="428" width="5" height="222"/>
<rect x="1978" y="678" width="5" height="314"/>
<rect x="1978" y="1014" width="5" height="54"/>
<rect x="1978" y="1088" width="5" height="122"/>
</g>
<text class="cat" transform="translate(1989,136) rotate(90)">Salicylic acid</text>
<text class="cat" transform="translate(1989,274) rotate(90)">Brassinosteroids</text>
<text class="cat" transform="translate(1989,400) rotate(90)">Jasmonic acid</text>
<text class="cat" transform="translate(1989,552) rotate(90)">Auxin</text>
<text class="cat" transform="translate(1989,833) rotate(90)">Abscisic acid</text>
<text class="cat" transform="translate(1989,1038) rotate(90)">Gibberellins</text>
<text class="cat" transform="translate(1989,1146) rotate(90)">Ethylene</text>
</g>
</svg>
